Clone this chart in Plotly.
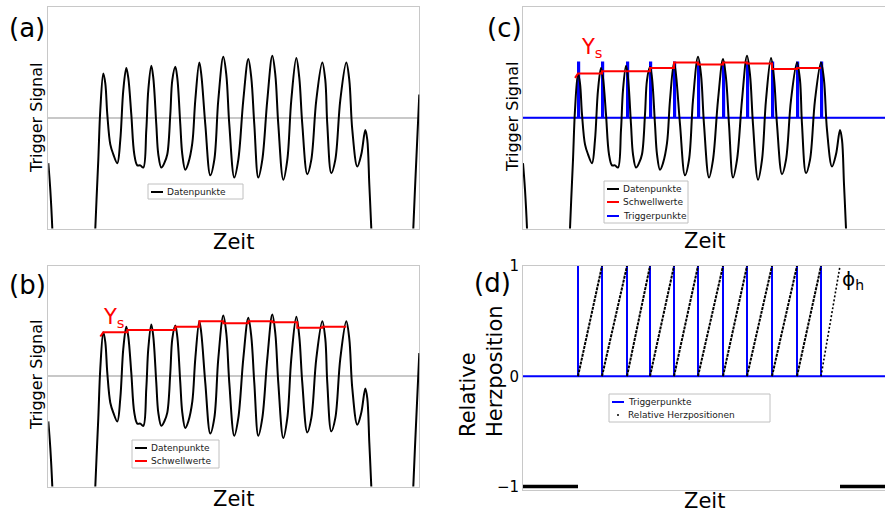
import plotly.graph_objects as go

# ---------------- data ----------------
# trigger signal (time in s, normalised amplitude)
sig_t = [0.00, 0.02, 0.04, 0.06, 0.45, 0.47, 0.50, 0.52, 0.55, 0.57, 0.59, 0.62, 0.65, 0.69,
         0.72, 0.75, 0.78, 0.80, 0.83, 0.86, 0.89, 0.92, 0.95, 0.98, 1.00, 1.03, 1.05, 1.08,
         1.10, 1.13, 1.16, 1.19, 1.22, 1.24, 1.27, 1.29, 1.32, 1.34, 1.37, 1.40, 1.44, 1.47,
         1.51, 1.53, 1.57, 1.62, 1.66, 1.70, 1.75, 1.78, 1.81, 1.86, 1.90, 1.95, 2.00, 2.03,
         2.06, 2.10, 2.14, 2.19, 2.24, 2.27, 2.30, 2.35, 2.39, 2.43, 2.48, 2.51, 2.54, 2.59,
         2.63, 2.68, 2.74, 2.77, 2.79, 2.83, 2.87, 2.92, 2.98, 3.01, 3.04, 3.09, 3.13, 3.17,
         3.19, 3.21, 3.23, 3.25, 3.63, 3.65, 3.68, 3.71]
sig_v = [-0.41, -0.65, -1.00, -1.55, -1.55, -1.00, -0.38, 0.07, 0.40, 0.31, 0.03, -0.24, -0.33, -0.41,
         -0.20, 0.25, 0.45, 0.36, 0.03, -0.33, -0.43, -0.43, -0.45, -0.11, 0.25, 0.47, 0.36, -0.06,
         -0.33, -0.45, -0.41, -0.33, 0.03, 0.34, 0.46, 0.36, -0.06, -0.33, -0.47, -0.41, -0.23, 0.16,
         0.50, 0.39, -0.06, -0.52, -0.38, 0.16, 0.55, 0.39, -0.06, -0.54, -0.38, 0.16, 0.53, 0.36,
         -0.06, -0.54, -0.38, 0.16, 0.56, 0.39, -0.06, -0.56, -0.38, 0.16, 0.54, 0.36, -0.06, -0.51,
         -0.38, 0.16, 0.50, 0.34, -0.06, -0.50, -0.38, 0.16, 0.50, 0.34, -0.11, -0.44, -0.33, -0.11,
         -0.20, -0.60, -1.00, -1.55, -1.55, -1.00, -0.38, 0.21]

# trigger points (s)
trig_t = [0.55, 0.79, 1.04, 1.27, 1.51, 1.75, 2.00, 2.24, 2.49, 2.74, 2.98]
# threshold values (Schwellwerte)
thr_start_t = 0.52
thr_start_v = 0.36
thr_v = [0.40, 0.42, 0.42, 0.45, 0.50, 0.48, 0.50, 0.49, 0.44, 0.45]
trig_height_c = 0.5
trig_height_d = 1.0
last_pos_end_t = 3.17
t_end_ab = 3.71
t_end_cd = 3.62

# ---------------- derived traces ----------------
thr_x = [thr_start_t]
thr_y = [thr_start_v]
for i, lvl in enumerate(thr_v):
    thr_x += [trig_t[i], trig_t[i + 1]]
    thr_y += [lvl, lvl]

def trigger_line(height, width, t_end):
    xs, ys = [0.0], [0.0]
    for t in trig_t:
        xs += [t, t, t + width, t + width]
        ys += [0, height, height, 0]
    xs.append(t_end)
    ys.append(0)
    return xs, ys

trc_x, trc_y = trigger_line(trig_height_c, 0.012, t_end_cd)
trd_x, trd_y = trigger_line(trig_height_d, 0.0, t_end_cd)

ramp_x, ramp_y = [], []
for i in range(len(trig_t) - 1):
    ramp_x += [trig_t[i], trig_t[i + 1], None]
    ramp_y += [0, 1, None]
last_ramp_x = [trig_t[-1], last_pos_end_t]
last_ramp_y = [0, 1]
neg_x = [0, trig_t[0], None, last_pos_end_t, t_end_cd]
neg_y = [-1, -1, None, -1, -1]

BLACK = "#000000"
RED = "#ff0000"
BLUE = "#0000ff"
GREY = "#c8c8c8"
FONT = "DejaVu Sans"
W, H = 885, 513

fig = go.Figure()

def sig_trace(xa, ya):
    return go.Scatter(x=sig_t, y=sig_v, mode="lines", line=dict(color=BLACK, width=2, shape="spline"),
                      xaxis=xa, yaxis=ya, showlegend=False, hoverinfo="skip")

# (a)
fig.add_trace(sig_trace("x", "y"))
# (b)
fig.add_trace(sig_trace("x2", "y2"))
fig.add_trace(go.Scatter(x=thr_x, y=thr_y, mode="lines", line=dict(color=RED, width=2),
                         xaxis="x2", yaxis="y2", showlegend=False))
# (c)
fig.add_trace(go.Scatter(x=trc_x, y=trc_y, mode="lines", line=dict(color=BLUE, width=2),
                         xaxis="x3", yaxis="y3", showlegend=False))
fig.add_trace(sig_trace("x3", "y3"))
fig.add_trace(go.Scatter(x=thr_x, y=thr_y, mode="lines", line=dict(color=RED, width=2),
                         xaxis="x3", yaxis="y3", showlegend=False))
# (d)
fig.add_trace(go.Scatter(x=trd_x, y=trd_y, mode="lines", line=dict(color=BLUE, width=2),
                         xaxis="x4", yaxis="y4", showlegend=False))
fig.add_trace(go.Scatter(x=ramp_x, y=ramp_y, mode="lines", line=dict(color=BLACK, width=2, dash="3px,1px"),
                         xaxis="x4", yaxis="y4", showlegend=False))
fig.add_trace(go.Scatter(x=last_ramp_x, y=last_ramp_y, mode="lines",
                         line=dict(color=BLACK, width=1.6, dash="2px,2px"),
                         xaxis="x4", yaxis="y4", showlegend=False))
fig.add_trace(go.Scatter(x=neg_x, y=neg_y, mode="lines", line=dict(color=BLACK, width=3.5),
                         xaxis="x4", yaxis="y4", showlegend=False))

def px_x(p):
    return p / W

def px_y(p):
    return 1 - p / H

# domains (pixels)
L_AB, R_AB = 48.3, 419.3
L_CD, R_CD = 523.0, 885.0
T_TOP, B_TOP = 7.0, 228.5
T_BOT, B_BOT = 266.0, 486.5

def xax(dom, rng, mirror):
    return dict(domain=[px_x(dom[0]), px_x(dom[1])], range=rng, showgrid=False, zeroline=False,
                showticklabels=False, ticks="", showline=True, linecolor=GREY, linewidth=1,
                mirror=mirror, layer="below traces", fixedrange=True, automargin=False)

def yax(dom, anchor, mirror, rng=(-1, 1), zeroline=True, ticklabels=False):
    d = dict(domain=[px_y(dom[1]), px_y(dom[0])], range=list(rng), showgrid=False,
             zeroline=zeroline, zerolinecolor=GREY, zerolinewidth=1.5,
             showticklabels=ticklabels, ticks="", showline=True, linecolor=GREY, linewidth=1,
             mirror=mirror, anchor=anchor, layer="below traces", fixedrange=True, automargin=False)
    return d

neg_ext = 0.03
B_D = B_BOT + neg_ext * (B_BOT - T_BOT) / 2.0

fig.update_layout(
    width=W, height=H, autosize=False,
    margin=dict(l=0, r=0, t=0, b=0, pad=0, autoexpand=False),
    paper_bgcolor="white", plot_bgcolor="white",
    font=dict(family=FONT, color=BLACK),
    showlegend=False,
    xaxis=dict(xax((L_AB, R_AB), [0, t_end_ab], True), anchor="y"),
    yaxis=yax((T_TOP, B_TOP), "x", True),
    xaxis2=dict(xax((L_AB, R_AB), [0, t_end_ab], True), anchor="y2"),
    yaxis2=yax((T_BOT, B_BOT), "x2", True),
    xaxis3=dict(xax((L_CD, R_CD), [0, t_end_cd], True), anchor="y3"),
    yaxis3=yax((T_TOP, B_TOP), "x3", False),
    xaxis4=dict(xax((L_CD, R_CD), [0, t_end_cd], True), anchor="y4"),
    yaxis4=dict(yax((T_BOT, B_D), "x4", False, rng=(-1 - neg_ext, 1), zeroline=False, ticklabels=True),
                tickvals=[-1, 0, 1], ticktext=["\u22121", "0", "1"], tickfont=dict(size=15, color=BLACK)),
)

annotations = []
shapes = []

def text(x, y, s, size, color=BLACK, angle=0, xanchor="center", yanchor="middle", align="center"):
    annotations.append(dict(x=px_x(x), y=px_y(y), xref="paper", yref="paper", text=s, showarrow=False,
                            font=dict(size=size, color=color, family=FONT), textangle=angle,
                            xanchor=xanchor, yanchor=yanchor, align=align))

# panel labels
text(27, 28, "(a)", 26)
text(27, 285, "(b)", 26)
text(505, 28, "(c)", 26)
text(493, 283, "(d)", 26)

# axis titles
for cx, cy in [(233, 242), (233, 499), (704, 241), (704, 501)]:
    text(cx, cy, "Zeit", 21)
text(36, 118, "Trigger Signal", 16, angle=-90)
text(36, 375, "Trigger Signal", 16, angle=-90)
text(512, 117, "Trigger Signal", 16, angle=-90)
text(481, 371, "Relative<br>Herzposition", 21, angle=-90, align="left")

# Y_s labels and phi_h
text(113, 318, "Y<sub>s</sub>", 21, color=RED)
text(591, 48, "Y<sub>s</sub>", 21, color=RED)
text(853, 280, "\u03d5<sub>h</sub>", 20)

# legends (manual)
def legend(box, entries):
    x0, y0, x1, y1 = box
    shapes.append(dict(type="rect", xref="paper", yref="paper", x0=px_x(x0), x1=px_x(x1),
                       y0=px_y(y1), y1=px_y(y0), line=dict(color="#c0c0c0", width=1),
                       fillcolor="white", layer="above"))
    for (ey, kind, color, label) in entries:
        lx0 = x0 + 3
        if kind == "line":
            shapes.append(dict(type="line", xref="paper", yref="paper", x0=px_x(lx0), x1=px_x(lx0 + 12),
                               y0=px_y(ey), y1=px_y(ey), line=dict(color=color, width=2), layer="above"))
        else:
            shapes.append(dict(type="circle", xref="paper", yref="paper", x0=px_x(lx0 + 5), x1=px_x(lx0 + 7),
                               y0=px_y(ey + 1), y1=px_y(ey - 1), line=dict(color=color, width=0),
                               fillcolor=color, layer="above"))
        text(lx0 + 14, ey, label, 9, color="#1a1a1a", xanchor="left")

legend((148, 184, 243, 199), [(192, "line", BLACK, "Datenpunkte")])
legend((132, 440, 219, 468), [(448, "line", BLACK, "Datenpunkte"), (461, "line", RED, "Schwellwerte")])
legend((604, 181, 688, 223), [(189, "line", BLACK, "Datenpunkte"), (202, "line", RED, "Schwellwerte"),
                              (216, "line", BLUE, "Triggerpunkte")])
legend((609, 394, 770, 422), [(402, "line", BLUE, "Triggerpunkte"), (415, "dot", BLACK, "Relative Herzpositionen")])

fig.update_layout(annotations=annotations, shapes=shapes)
fig.write_html("out.html")
